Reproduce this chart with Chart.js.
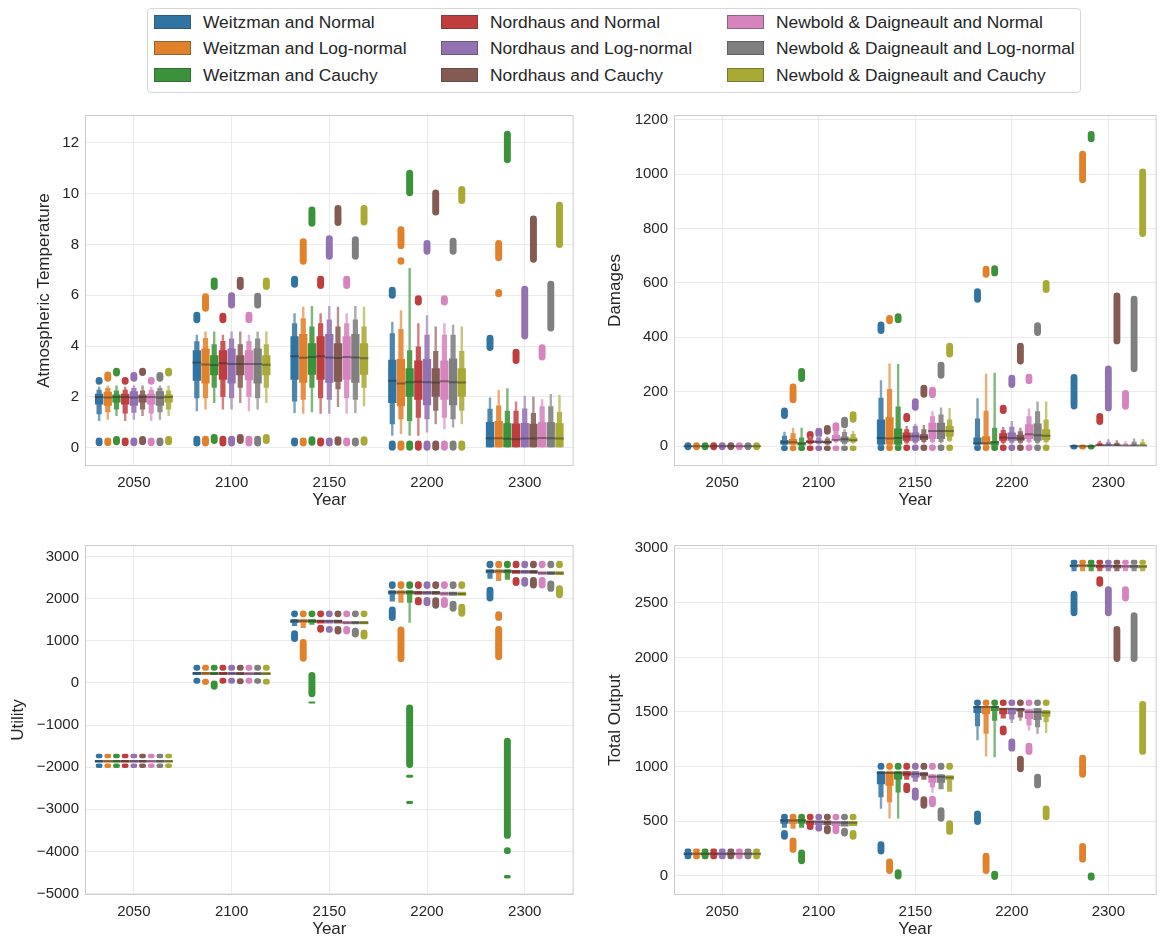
<!DOCTYPE html>
<html>
<head>
<meta charset="utf-8">
<script src="https://cdn.jsdelivr.net/npm/chart.js@4.4.1/dist/chart.umd.min.js"></script>
<style>
  html, body { margin: 0; padding: 0; background: #fff; width: 1161px; height: 941px; overflow: hidden; position: relative; font-family: "Liberation Sans", Arial, sans-serif; }
  canvas { position: absolute; }
  #legend { position: absolute; left: 147px; top: 8px; width: 932px; height: 83px; border: 1px solid #d6d6d6; border-radius: 4px; background: #fff; }
  .item { position: absolute; height: 20px; font-size: 17.4px; color: #262626; white-space: nowrap; }
  .item .patch { position: absolute; left: 0; top: 3px; width: 35px; height: 12px; border: 1px solid rgba(60, 60, 60, 0.45); }
  .item .txt { position: absolute; left: 49px; top: 0; line-height: 20px; }
</style>
</head>
<body>
<div id="legend"></div>
<canvas id="tempChart" width="580" height="412" style="left:0;top:100px"></canvas>
<canvas id="dmgChart" width="573" height="412" style="left:590px;top:100px"></canvas>
<canvas id="utilChart" width="580" height="411" style="left:0;top:530px"></canvas>
<canvas id="outChart" width="573" height="411" style="left:590px;top:530px"></canvas>
<script>
const years = ['2050', '2100', '2150', '2200', '2300'];
const groups = ['Weitzman and Normal', 'Weitzman and Log-normal', 'Weitzman and Cauchy',
    'Nordhaus and Normal', 'Nordhaus and Log-normal', 'Nordhaus and Cauchy',
    'Newbold & Daigneault and Normal', 'Newbold & Daigneault and Log-normal', 'Newbold & Daigneault and Cauchy'];
const colors = ['#3274a1', '#e1812c', '#3a923a', '#c03d3e', '#9372b2', '#845b53', '#d684bd', '#7f7f7f', '#a9aa35'];

// values are [year][group]; boxes are [low, high]
// Atmospheric Temperature
const tempTicks = [0, 2, 4, 6, 8, 10, 12];
const tempMedian = [
    [2.0, 1.98, 2.0, 2.0, 1.98, 2.0, 2.0, 1.98, 2.0],
    [3.36, 3.28, 3.26, 3.33, 3.3, 3.3, 3.3, 3.3, 3.27],
    [3.6, 3.54, 3.57, 3.6, 3.55, 3.53, 3.57, 3.55, 3.52],
    [2.64, 2.53, 2.58, 2.6, 2.58, 2.57, 2.62, 2.58, 2.57],
    [0.37, 0.37, 0.35, 0.33, 0.36, 0.36, 0.38, 0.37, 0.36]
];
const tempBox = [
    [[1.7, 2.12], [1.65, 2.2], [1.78, 2.1], [1.7, 2.12], [1.65, 2.22], [1.78, 2.1], [1.7, 2.12], [1.65, 2.22], [1.78, 2.1]],
    [[2.64, 3.84], [2.53, 3.91], [2.85, 3.64], [2.68, 3.84], [2.53, 3.91], [2.85, 3.64], [2.66, 3.84], [2.53, 3.91], [2.85, 3.64]],
    [[2.68, 4.39], [2.56, 4.48], [2.87, 4.11], [2.68, 4.39], [2.56, 4.48], [2.6, 4.11], [2.68, 4.39], [2.56, 4.48], [2.87, 4.11]],
    [[1.76, 3.46], [1.63, 3.49], [2.01, 3.13], [1.89, 3.43], [1.67, 3.49], [2.01, 3.13], [1.89, 3.43], [1.67, 3.51], [2.01, 3.13]],
    [[0, 1.01], [0, 1.05], [0, 0.96], [0, 0.95], [0, 0.97], [0, 0.94], [0, 1.0], [0, 1.0], [0, 0.96]]
];
const tempMid = [
    [[1.32, 2.28], [1.4, 2.35], [1.5, 2.25], [1.35, 2.28], [1.38, 2.35], [1.5, 2.25], [1.35, 2.28], [1.4, 2.35], [1.5, 2.25]],
    [[1.95, 4.19], [1.95, 4.32], [2.36, 4.07], [2.0, 4.2], [1.95, 4.3], [2.36, 4.07], [2.0, 4.2], [1.95, 4.3], [2.36, 4.07]],
    [[1.82, 4.9], [1.89, 5.1], [2.36, 4.77], [1.95, 4.9], [1.89, 5.05], [2.3, 4.77], [1.95, 4.9], [1.89, 5.05], [2.36, 4.77]],
    [[0.92, 4.51], [1.12, 4.67], [1.05, 3.84], [1.18, 3.99], [1.12, 4.45], [1.46, 3.81], [1.18, 4.45], [1.12, 4.45], [1.46, 3.81]],
    [[0, 1.53], [0, 1.66], [0, 1.46], [0, 1.46], [0, 1.54], [0, 1.37], [0, 1.63], [0, 1.63], [0, 1.41]]
];
const tempTail = [
    [[1.05, 2.4], [1.1, 2.45], [1.25, 2.45], [1.05, 2.4], [1.1, 2.45], [1.25, 2.45], [1.05, 2.4], [1.1, 2.45], [1.25, 2.45]],
    [[1.44, 4.45], [1.5, 4.58], [1.76, 4.58], [1.5, 4.45], [1.5, 4.58], [1.76, 4.58], [1.44, 4.45], [1.5, 4.58], [1.76, 4.58]],
    [[1.37, 5.29], [1.34, 5.55], [1.4, 5.58], [1.34, 5.29], [1.34, 5.58], [1.6, 5.55], [1.34, 5.29], [1.37, 5.58], [1.63, 5.55]],
    [[0.47, 4.96], [0.54, 5.41], [0.47, 7.08], [0.47, 4.9], [0.6, 5.22], [0.92, 4.77], [0.73, 4.9], [0.8, 4.84], [0.92, 4.77]],
    [[0, 1.98], [0, 2.27], [0, 2.34], [0, 1.82], [0, 2.05], [0, 2.02], [0, 1.91], [0, 2.11], [0, 2.08]]
];
const tempUpper = [
    [[2.48, 2.78], [2.6, 3.0], [2.8, 3.15], [2.48, 2.78], [2.6, 2.98], [2.82, 3.15], [2.48, 2.78], [2.6, 2.98], [2.8, 3.15]],
    [[4.9, 5.35], [5.35, 6.08], [6.21, 6.7], [4.9, 5.31], [5.48, 6.12], [6.21, 6.73], [4.9, 5.35], [5.48, 6.1], [6.21, 6.7]],
    [[6.3, 6.77], [7.2, 8.25], [8.7, 9.5], [6.25, 6.77], [7.4, 8.37], [8.73, 9.56], [6.25, 6.77], [7.4, 8.33], [8.75, 9.56]],
    [[5.87, 6.34], [7.82, 8.72], [9.9, 10.94], [5.6, 6.0], [7.6, 8.18], [9.14, 10.17], [5.6, 6.0], [7.6, 8.27], [9.6, 10.3]],
    [[3.81, 4.45], [7.34, 8.18], [11.2, 12.48], [3.3, 3.9], [4.26, 6.38], [7.28, 9.14], [3.43, 4.07], [4.58, 6.57], [7.86, 9.68]]
];
const tempLower = [
    [[0.06, 0.4], [0.06, 0.4], [0.1, 0.46], [0.06, 0.4], [0.06, 0.4], [0.1, 0.46], [0.06, 0.4], [0.06, 0.4], [0.1, 0.46]],
    [[0.05, 0.47], [0.05, 0.47], [0.15, 0.54], [0.05, 0.47], [0.05, 0.47], [0.15, 0.54], [0.05, 0.47], [0.05, 0.47], [0.15, 0.54]],
    [[0.05, 0.4], [0.05, 0.4], [0.08, 0.45], [0.05, 0.4], [0.05, 0.4], [0.08, 0.45], [0.05, 0.4], [0.05, 0.4], [0.08, 0.45]],
    [[-0.12, 0.28], [-0.12, 0.28], [-0.12, 0.28], [-0.12, 0.28], [-0.12, 0.28], [-0.12, 0.28], [-0.12, 0.28], [-0.12, 0.28], [-0.12, 0.28]],
    [null, null, null, null, null, null, null, null, null]
];
const tempExtra = [[3, 1, 7.2, 7.5], [4, 1, 5.93, 6.25]];

// Damages
const dmgTicks = [0, 200, 400, 600, 800, 1000, 1200];
const dmgMedian = [
    [0, 0, 0, 0, 0, 0, 0, 0, 0],
    [14, 14, 10, 15, 15, 15, 23, 25, 22],
    [30, 28, 30, 35, 36, 33, 56, 56, 56],
    [11, 11, 14, 32, 30, 28, 44, 40, 38],
    [0, 0, 0, 3, 3, 3, 2, 2, 2]
];
const dmgBox = [
    [[-2, 2], [-2, 2], [-2, 2], [-2, 2], [-2, 2], [-2, 2], [-2, 2], [-2, 2], [-2, 2]],
    [[6, 23], [6, 26], [2, 14], [12, 22], [12, 22], [10, 20], [23, 41], [14, 35], [18, 32]],
    [[6, 98], [6, 106], [6, 65], [20, 50], [18, 50], [23, 44], [26, 86], [26, 86], [35, 74]],
    [[6, 32], [6, 36], [2, 18], [20, 47], [20, 50], [20, 42], [26, 80], [20, 83], [23, 62]],
    [[-1, 2], [-1, 2], [-1, 2], [0, 6], [0, 6], [0, 5], [0, 4], [0, 5], [0, 5]]
];
const dmgMid = [
    [null, null, null, null, null, null, null, null, null],
    [[2, 38], [2, 47], [0, 32], [8, 30], [8, 32], [6, 28], [15, 52], [8, 52], [12, 45]],
    [[2, 178], [2, 210], [2, 146], [12, 62], [12, 74], [15, 62], [15, 110], [15, 116], [20, 98]],
    [[2, 102], [2, 130], [0, 68], [12, 59], [12, 71], [12, 55], [15, 110], [12, 128], [15, 98]],
    [null, null, null, [0, 12], [0, 14], [0, 12], [0, 10], [0, 16], [0, 14]]
];
const dmgTail = [
    [null, null, null, null, null, null, null, null, null],
    [[0, 53], [0, 68], [0, 68], [5, 35], [5, 38], [4, 35], [10, 55], [5, 62], [8, 56]],
    [[0, 242], [0, 304], [0, 302], [8, 74], [8, 82], [10, 78], [10, 128], [10, 142], [15, 140]],
    [[0, 176], [0, 266], [0, 270], [8, 70], [8, 92], [8, 68], [10, 138], [8, 164], [10, 164]],
    [null, null, null, [0, 20], [0, 25], [0, 22], [0, 18], [0, 28], [0, 26]]
];
const dmgUpper = [
    [null, null, null, null, null, null, null, null, null],
    [[100, 142], [158, 230], [236, 287], [26, 56], [32, 68], [42, 78], [50, 88], [66, 108], [86, 128]],
    [[412, 458], [448, 482], [452, 488], [88, 122], [130, 176], [178, 226], [176, 218], [248, 310], [326, 380]],
    [[527, 580], [619, 663], [624, 665], [118, 152], [214, 262], [300, 380], [228, 266], [405, 455], [563, 611]],
    [[135, 265], [966, 1086], [1117, 1158], [78, 122], [128, 296], [374, 565], [134, 206], [272, 553], [769, 1020]]
];
const dmgLower = [
    [[-15, 14], [-15, 14], [-15, 14], [-15, 14], [-15, 14], [-15, 14], [-15, 14], [-15, 14], [-15, 14]],
    [[-18, 2], [-18, 2], [-18, 2], [-18, 2], [-18, 2], [-18, 2], [-18, 2], [-18, 2], [-18, 2]],
    [[-18, 6], [-18, 6], [-18, 6], [-18, 6], [-18, 6], [-18, 6], [-18, 6], [-18, 6], [-18, 6]],
    [[-18, 6], [-18, 6], [-18, 6], [-18, 6], [-18, 6], [-18, 6], [-18, 6], [-18, 6], [-18, 6]],
    [[-12, 6], [-12, 6], [-12, 6], null, null, null, null, null, null]
];
const dmgExtra = [];

// Utility
const utilTicks = [-5000, -4000, -3000, -2000, -1000, 0, 1000, 2000, 3000];
const utilMedian = [
    [-1860, -1860, -1860, -1860, -1860, -1860, -1860, -1860, -1860],
    [230, 230, 225, 225, 225, 220, 220, 220, 215],
    [1470, 1470, 1470, 1460, 1460, 1460, 1430, 1430, 1430],
    [2150, 2150, 2150, 2140, 2140, 2140, 2120, 2120, 2110],
    [2650, 2650, 2650, 2640, 2640, 2630, 2610, 2610, 2600]
];
const utilBox = [
    [[-1890, -1830], [-1890, -1830], [-1890, -1830], [-1890, -1830], [-1890, -1830], [-1890, -1830], [-1890, -1830], [-1890, -1830], [-1890, -1830]],
    [[190, 260], [190, 260], [190, 260], [190, 260], [190, 260], [190, 260], [190, 260], [190, 260], [190, 260]],
    [[1420, 1510], [1420, 1510], [1420, 1510], [1410, 1500], [1410, 1500], [1410, 1500], [1390, 1470], [1390, 1470], [1390, 1470]],
    [[2100, 2190], [2100, 2190], [2100, 2190], [2090, 2180], [2090, 2180], [2090, 2180], [2070, 2160], [2070, 2160], [2070, 2160]],
    [[2600, 2690], [2600, 2690], [2600, 2690], [2590, 2680], [2590, 2680], [2590, 2680], [2560, 2650], [2560, 2650], [2560, 2650]]
];
const utilMid = [
    [null, null, null, null, null, null, null, null, null],
    [null, null, null, null, null, null, null, null, null],
    [[1350, 1510], [1300, 1510], [1380, 1510], null, null, null, null, null, null],
    [[1930, 2190], [1900, 2190], [1900, 2190], null, null, null, null, null, null],
    [[2470, 2690], [2420, 2690], [2450, 2690], null, null, null, null, null, null]
];
const utilTail = [
    [null, null, null, null, null, null, null, null, null],
    [null, null, null, null, null, null, null, null, null],
    [null, null, null, null, null, null, null, null, null],
    [null, null, [1430, 2190], null, null, null, null, null, null],
    [null, null, null, null, null, null, null, null, null]
];
const utilUpper = [
    [[-1790, -1680], [-1790, -1680], [-1790, -1680], [-1790, -1680], [-1790, -1680], [-1790, -1680], [-1790, -1680], [-1790, -1680], [-1790, -1680]],
    [[290, 430], [290, 430], [290, 430], [290, 430], [290, 430], [290, 430], [290, 430], [290, 430], [290, 430]],
    [[1560, 1720], [1560, 1720], [1560, 1720], [1560, 1720], [1560, 1720], [1560, 1720], [1560, 1720], [1560, 1720], [1560, 1720]],
    [[2230, 2410], [2230, 2410], [2230, 2410], [2230, 2410], [2230, 2410], [2230, 2410], [2230, 2410], [2230, 2410], [2230, 2410]],
    [[2720, 2900], [2720, 2900], [2720, 2900], [2720, 2900], [2720, 2900], [2720, 2900], [2720, 2900], [2720, 2900], [2720, 2900]]
];
const utilLower = [
    [[-2020, -1910], [-2020, -1910], [-2020, -1910], [-2020, -1910], [-2020, -1910], [-2020, -1910], [-2020, -1910], [-2020, -1910], [-2020, -1910]],
    [[-20, 120], [-50, 100], [-160, 60], [-20, 120], [-20, 120], [-30, 110], [-20, 120], [-20, 110], [-40, 100]],
    [[970, 1250], [500, 1040], [-340, 260], [1190, 1380], [1190, 1350], [1150, 1350], [1150, 1350], [1080, 1310], [1030, 1270]],
    [[1470, 1810], [490, 1340], [-2020, -510], [1840, 2040], [1820, 2040], [1760, 2030], [1780, 2040], [1690, 1950], [1570, 1880]],
    [[1930, 2280], [540, 1350], [-3700, -1300], [2300, 2510], [2280, 2510], [2240, 2510], [2240, 2510], [2160, 2430], [2010, 2320]]
];
const utilExtra = [[2, 2, -490, -440], [3, 2, -2250, -2180], [3, 2, -2870, -2800], [4, 1, 1470, 1700], [4, 2, -4060, -3900], [4, 2, -4640, -4560]];

// Total Output
const outTicks = [0, 500, 1000, 1500, 2000, 2500, 3000];
const outMedian = [
    [200, 200, 200, 200, 200, 200, 200, 200, 200],
    [505, 505, 505, 495, 495, 490, 488, 485, 485],
    [942, 942, 942, 935, 935, 930, 906, 906, 900],
    [1546, 1546, 1546, 1530, 1530, 1525, 1500, 1500, 1495],
    [2842, 2842, 2842, 2840, 2840, 2838, 2835, 2835, 2832]
];
const outBox = [
    [[185, 215], [185, 215], [185, 215], [185, 215], [185, 215], [185, 215], [185, 215], [185, 215], [185, 215]],
    [[475, 520], [475, 520], [475, 520], [465, 505], [465, 505], [465, 505], [455, 500], [450, 500], [455, 500]],
    [[838, 957], [823, 957], [882, 957], [912, 957], [897, 957], [912, 948], [852, 927], [852, 927], [876, 918]],
    [[1490, 1555], [1480, 1555], [1510, 1555], [1480, 1535], [1480, 1535], [1505, 1535], [1436, 1525], [1427, 1535], [1457, 1516]],
    [[2825, 2852], [2825, 2852], [2825, 2852], [2818, 2850], [2818, 2850], [2818, 2850], [2818, 2850], [2818, 2850], [2818, 2850]]
];
const outMid = [
    [null, null, null, null, null, null, null, null, null],
    [[440, 520], [430, 520], [440, 520], null, null, null, null, null, null],
    [[718, 957], [673, 957], [763, 957], [880, 957], [860, 957], [880, 948], [808, 927], [793, 927], [769, 918]],
    [[1370, 1555], [1300, 1555], [1420, 1555], [1440, 1535], [1430, 1535], [1450, 1535], [1376, 1525], [1361, 1535], [1406, 1516]],
    [[2790, 2852], [2790, 2852], [2790, 2852], [2790, 2850], [2790, 2850], [2790, 2850], [2790, 2850], [2790, 2850], [2790, 2850]]
];
const outTail = [
    [null, null, null, null, null, null, null, null, null],
    [null, null, null, null, null, null, null, null, null],
    [[613, 957], [523, 957], [523, 957], null, null, null, [760, 927], null, null],
    [[1240, 1555], [1092, 1555], [1086, 1555], null, [1400, 1535], [1420, 1535], [1330, 1525], [1300, 1535], [1307, 1516]],
    [null, null, null, null, null, null, null, null, null]
];
const outUpper = [
    [[205, 250], [205, 250], [205, 250], [205, 250], [205, 250], [205, 250], [205, 250], [205, 250], [205, 250]],
    [[508, 568], [508, 568], [508, 568], [508, 568], [508, 568], [508, 568], [508, 568], [508, 568], [508, 568]],
    [[970, 1035], [970, 1035], [970, 1035], [970, 1035], [970, 1035], [970, 1035], [970, 1035], [970, 1035], [970, 1035]],
    [[1555, 1615], [1555, 1615], [1555, 1615], [1555, 1615], [1555, 1615], [1555, 1615], [1555, 1615], [1555, 1615], [1555, 1615]],
    [[2850, 2895], [2850, 2895], [2850, 2895], [2850, 2895], [2850, 2895], [2850, 2895], [2850, 2895], [2850, 2895], [2850, 2895]]
];
const outLower = [
    [[150, 195], [150, 195], [150, 195], [150, 195], [150, 195], [150, 195], [150, 195], [150, 195], [150, 195]],
    [[329, 419], [209, 350], [105, 239], [419, 479], [404, 473], [380, 464], [380, 464], [359, 440], [329, 419]],
    [[195, 315], [15, 158], [-35, 60], [757, 852], [688, 808], [613, 727], [628, 733], [494, 628], [374, 508]],
    [[464, 598], [15, 209], [-39, 45], [1286, 1376], [1137, 1256], [948, 1098], [1107, 1217], [800, 933], [509, 643]],
    [[2378, 2611], [897, 1107], [-45, 30], [2647, 2743], [2378, 2653], [1959, 2288], [2513, 2653], [1959, 2414], [1107, 1600]]
];
const outExtra = [[4, 1, 120, 300]];

Chart.defaults.font.family = '"Liberation Sans", Arial, sans-serif';
Chart.defaults.color = '#262626';

// legend (three columns, filled column by column)
const legendEl = document.getElementById('legend');
groups.forEach((name, i) => {
    const item = document.createElement('div');
    item.className = 'item';
    item.style.left = [6, 293, 579][Math.floor(i / 3)] + 'px';
    item.style.top = [3, 29, 56][i % 3] + 'px';
    item.innerHTML = '<span class="patch" style="background:' + colors[i] + '"></span><span class="txt"></span>';
    item.querySelector('.txt').textContent = name;
    legendEl.appendChild(item);
});

function mix(hex, t) {
    const n = parseInt(hex.slice(1), 16);
    const f = c => Math.round(c + (255 - c) * t);
    return 'rgb(' + f((n >> 16) & 255) + ',' + f((n >> 8) & 255) + ',' + f(n & 255) + ')';
}

// centre of each group's slot inside a year, in axis units (seaborn: total width 0.8)
const hueOffset = h => -0.4 + (h + 0.5) * 0.8 / groups.length;

function barSet(h, data, width, color, order, round) {
    return {
        type: 'bar',
        data: data,
        grouped: false,
        categoryPercentage: 1,
        barPercentage: width,
        backgroundColor: color,
        borderWidth: 0,
        borderSkipped: false,
        borderRadius: round ? 20 : 0,
        order: order
    };
}

function boxSets(levels, width, lighten, order, round) {
    return groups.map((g, h) => barSet(h,
        years.map((y, yi) => levels[yi][h] ? { x: yi + hueOffset(h), y: levels[yi][h] } : null).filter(Boolean),
        width, mix(colors[h], lighten), order, round));
}

function extraSets(list) {
    return list.map(([yi, h, lo, hi]) => barSet(h, [{ x: yi + hueOffset(h), y: [lo, hi] }], 0.8, colors[h], 4, true));
}

const frame = {
    id: 'frame',
    beforeDatasetsDraw(chart) {
        const { ctx, chartArea: a } = chart;
        ctx.save();
        ctx.strokeStyle = '#cccccc';
        ctx.lineWidth = 1;
        ctx.strokeRect(a.left + 0.5, a.top + 0.5, a.right - a.left - 1, a.bottom - a.top - 1);
        ctx.restore();
    }
};

function drawPanel(id, p) {
    const medianPoints = [];
    years.forEach((y, yi) => groups.forEach((g, h) => {
        medianPoints.push({ x: yi + hueOffset(h), y: p.median[yi][h] });
    }));
    new Chart(document.getElementById(id), {
        type: 'bar',
        data: {
            datasets: [
                {
                    type: 'scatter', data: medianPoints, pointStyle: 'line', pointRadius: 4.4,
                    pointBorderWidth: 2, borderColor: 'rgba(38,38,38,0.45)', pointBorderColor: 'rgba(38,38,38,0.45)', order: 0
                },
                ...boxSets(p.box, 0.95, 0, 1, false),
                ...boxSets(p.mid, 0.6, 0.12, 2, false),
                ...boxSets(p.tail, 0.28, 0.35, 3, false),
                ...boxSets(p.upper, 0.8, 0, 4, true),
                ...boxSets(p.lower, 0.8, 0, 4, true),
                ...extraSets(p.extra)
            ]
        },
        options: {
            responsive: false,
            animation: false,
            layout: { padding: { top: 7, right: 5, left: 0, bottom: 0 } },
            plugins: { legend: { display: false }, tooltip: { enabled: false } },
            scales: {
                x: {
                    type: 'linear',
                    min: -0.5,
                    max: 4.5,
                    offset: false,
                    grid: { offset: false, color: '#ebebeb', drawTicks: false },
                    border: { display: false },
                    afterBuildTicks: s => { s.ticks = years.map((y, i) => ({ value: i })); },
                    ticks: { padding: 8, font: { size: 15 }, color: '#262626', callback: v => years[v] },
                    title: { display: true, text: 'Year', font: { size: 17 }, color: '#262626', padding: { top: 0, bottom: 1 } },
                    afterFit: s => { s.height = 46; }
                },
                y: {
                    type: 'linear',
                    min: p.min,
                    max: p.max,
                    stacked: false,
                    grid: { color: '#ebebeb', drawTicks: false },
                    border: { display: false },
                    afterBuildTicks: s => { s.ticks = p.ticks.map(v => ({ value: v })); },
                    ticks: { padding: 6, font: { size: 15 }, color: '#262626', callback: v => String(v).replace('-', '\u2212') },
                    title: { display: true, text: p.title, font: { size: 17 }, color: '#262626', padding: { top: p.titlePad, bottom: 0 } },
                    afterFit: s => { s.width = p.axisWidth; }
                }
            }
        },
        plugins: [frame]
    });
}

drawPanel('tempChart', { median: tempMedian, box: tempBox, mid: tempMid, tail: tempTail, upper: tempUpper, lower: tempLower, extra: tempExtra,
    ticks: tempTicks, min: -0.72, max: 13.1, title: 'Atmospheric Temperature', titlePad: 34, axisWidth: 85 });
drawPanel('dmgChart', { median: dmgMedian, box: dmgBox, mid: dmgMid, tail: dmgTail, upper: dmgUpper, lower: dmgLower, extra: dmgExtra,
    ticks: dmgTicks, min: -73, max: 1217, title: 'Damages', titlePad: 15, axisWidth: 84 });
drawPanel('utilChart', { median: utilMedian, box: utilBox, mid: utilMid, tail: utilTail, upper: utilUpper, lower: utilLower, extra: utilExtra,
    ticks: utilTicks, min: -5032, max: 3272, title: 'Utility', titlePad: 8, axisWidth: 85 });
drawPanel('outChart', { median: outMedian, box: outBox, mid: outMid, tail: outTail, upper: outUpper, lower: outLower, extra: outExtra,
    ticks: outTicks, min: -177, max: 3030, title: 'Total Output', titlePad: 15, axisWidth: 84 });
</script>
</body>
</html>
